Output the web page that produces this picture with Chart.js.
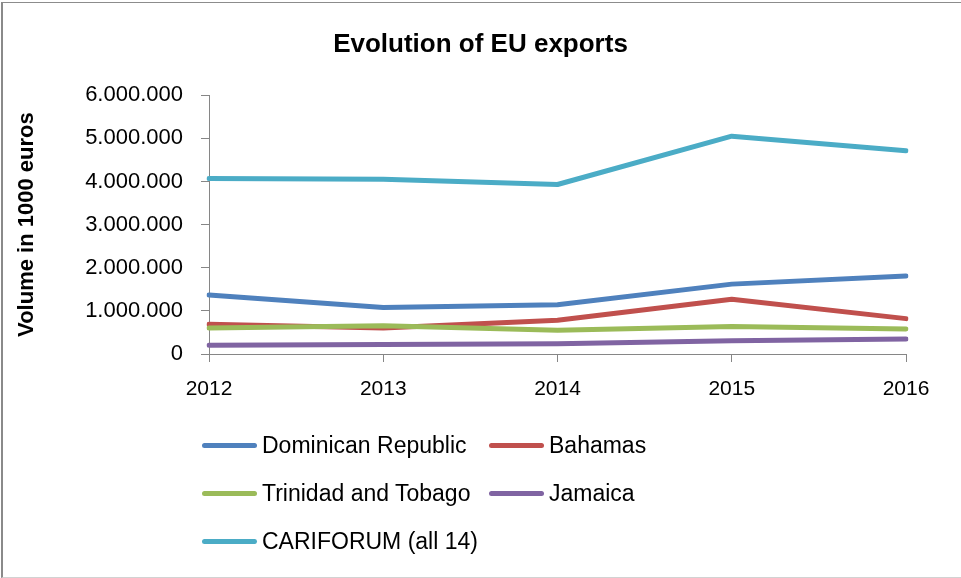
<!DOCTYPE html>
<html lang="en">
<head>
  <meta charset="UTF-8">
  <title>Evolution of EU exports</title>
  <style>
    body {
      margin: 0;
      padding: 0;
      background-color: #fff;
      font-family: "Liberation Sans", Arial, sans-serif;
    }

    #moldura {
      position: relative;
      width: 961px;
      height: 578px;
      overflow: hidden;
    }

    #grafico {
      position: absolute;
      left: 0;
      top: 0;
    }

    #borda {
      position: absolute;
      left: 1px;
      top: 2px;
      width: 980px;
      height: 574px;
      border-left: 2px solid #8a8a8a;
      border-top: 1px solid #8c8c8c;
      border-bottom: 1px solid #d2d2d2;
      pointer-events: none;
    }

    .legenda-item {
      position: absolute;
      display: flex;
      align-items: center;
      height: 30px;
      font-size: 23px;
      color: #000;
      white-space: nowrap;
    }

    .legenda-item .amostra {
      display: inline-block;
      width: 55px;
      height: 5px;
      border-radius: 3px;
      margin-right: 5px;
    }
  </style>
  <script src="https://cdn.jsdelivr.net/npm/chart.js"></script>
</head>
<body>
  <div id="moldura">
    <canvas id="grafico" width="961" height="578"></canvas>
    <div id="legenda"></div>
    <div id="borda"></div>
  </div>

  <script>
    const anos = ['2012', '2013', '2014', '2015', '2016'];
    const series = ['Dominican Republic', 'Bahamas', 'Trinidad and Tobago', 'Jamaica', 'CARIFORUM (all 14)'];

    const dominicanRepublic = [1370000, 1080000, 1140000, 1620000, 1810000];
    const bahamas = [690000, 600000, 780000, 1270000, 820000];
    const trinidadTobago = [600000, 655000, 550000, 640000, 580000];
    const jamaica = [200000, 220000, 240000, 310000, 350000];
    const cariforum = [4070000, 4050000, 3930000, 5050000, 4710000];

    const ticksY = [0, 1000000, 2000000, 3000000, 4000000, 5000000, 6000000];

    const cores = ['#4F81BD', '#C0504D', '#9BBB59', '#8064A2', '#4BACC6'];
    const valores = [dominicanRepublic, bahamas, trinidadTobago, jamaica, cariforum];

    // posicoes da legenda (igual ao Excel: 2 colunas)
    const posLegenda = [
      { x: 202, y: 445 }, { x: 489, y: 445 },
      { x: 202, y: 493 }, { x: 489, y: 493 },
      { x: 202, y: 541 }
    ];

    function formatarMilhar(v) {
      return String(v).replace(/\B(?=(\d{3})+(?!\d))/g, '.');
    }

    const fonte = "'Liberation Sans', Arial, sans-serif";

    new Chart(document.getElementById('grafico'), {
      type: 'line',
      data: {
        labels: anos,
        datasets: series.map((nome, i) => ({
          label: nome,
          data: valores[i],
          borderColor: cores[i],
          backgroundColor: cores[i],
          borderWidth: 5,
          borderCapStyle: 'round',
          borderJoinStyle: 'round',
          pointRadius: 0,
          tension: 0,
          order: series.length - i // series seguintes ficam por cima
        }))
      },
      options: {
        responsive: false,
        animation: false,
        layout: {
          padding: { left: 0, top: 0, right: 0, bottom: 164 }
        },
        plugins: {
          legend: { display: false },
          tooltip: { enabled: false },
          title: {
            display: true,
            text: 'Evolution of EU exports',
            color: '#000',
            font: { family: fonte, size: 26, weight: 'bold', lineHeight: 1.2 },
            padding: { top: 29, bottom: 35 }
          }
        },
        scales: {
          x: {
            afterFit: scale => { scale.height = 60; },
            grid: {
              drawOnChartArea: false,
              drawTicks: true,
              tickLength: 8,
              color: '#868686'
            },
            border: { color: '#868686', width: 1 },
            ticks: {
              color: '#000',
              padding: 15,
              maxRotation: 0,
              font: { family: fonte, size: 21 }
            }
          },
          y: {
            min: ticksY[0],
            max: ticksY[ticksY.length - 1],
            afterFit: scale => { scale.width = 209; },
            afterBuildTicks: scale => { scale.ticks = ticksY.map(v => ({ value: v })); },
            grid: {
              drawOnChartArea: false,
              drawTicks: true,
              tickLength: 8,
              color: '#868686'
            },
            border: { color: '#868686', width: 1 },
            ticks: {
              color: '#000',
              padding: 18,
              font: { family: fonte, size: 22 },
              callback: v => formatarMilhar(v)
            },
            title: {
              display: true,
              text: 'Volume in 1000 euros',
              color: '#000',
              font: { family: fonte, size: 22, weight: 'bold', lineHeight: 1.2 },
              padding: { top: 14, bottom: 0 }
            }
          },
          // eixo vazio so pra reservar a margem da direita (titulo fica centrado no canvas)
          margemDireita: {
            position: 'right',
            afterFit: scale => { scale.width = 55; },
            grid: { display: false },
            border: { display: false },
            ticks: { display: false }
          }
        }
      }
    });

    // legenda em HTML
    const legenda = document.getElementById('legenda');
    series.forEach((nome, i) => {
      const item = document.createElement('div');
      item.className = 'legenda-item';
      item.style.left = posLegenda[i].x + 'px';
      item.style.top = (posLegenda[i].y - 15) + 'px';
      item.innerHTML = '<span class="amostra" style="background:' + cores[i] + '"></span>' + nome;
      legenda.appendChild(item);
    });
  </script>
</body>
</html>
